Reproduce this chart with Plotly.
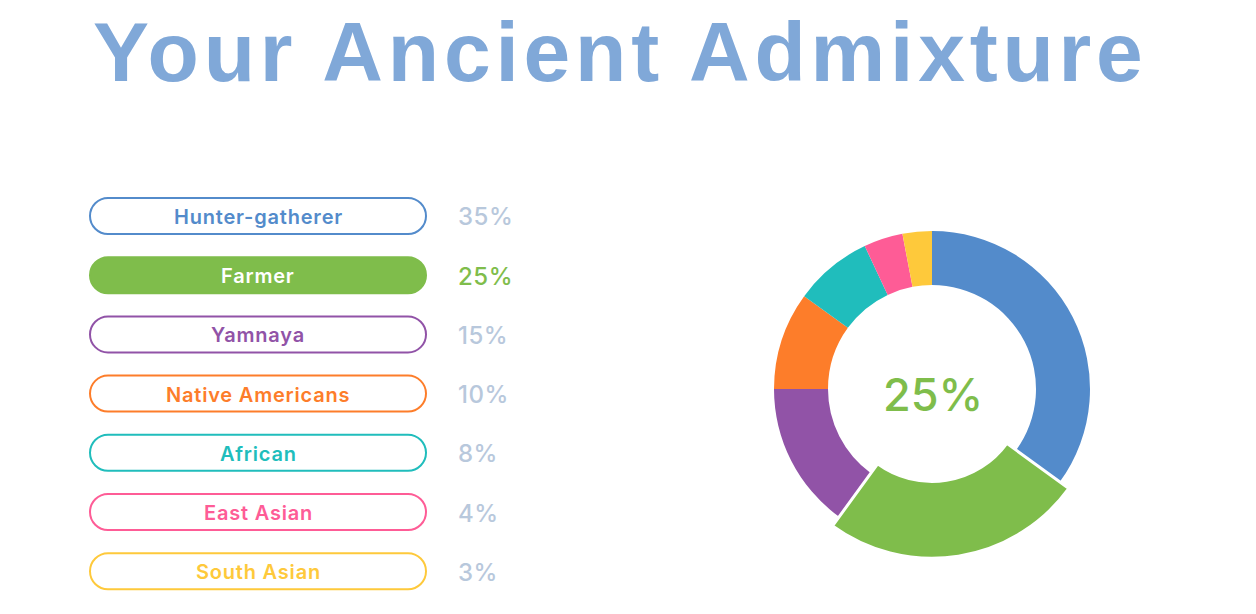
import plotly.graph_objects as go

W, H = 1256, 614

labels = ["Hunter-gatherer", "Farmer", "Yamnaya", "Native Americans", "African", "East Asian", "South Asian"]
values = [35, 25, 15, 10, 8, 4, 3]
colors = ["#538bcb", "#7fbd4b", "#9153a7", "#fd7d2a", "#20bdbc", "#fe5c96", "#fec93b"]
selected = "Farmer"
title = "Your Ancient Admixture"

def px(x):
    return x / W

def py(y):
    return 1 - y / H

fig = go.Figure()

CX, CY = 932, 389
R1, r1 = 158, 104          # normal ring
R2, r2 = 169.2, 92.5       # enlarged ring for the highlighted slice
sel_idx = labels.index(selected)

fig.add_trace(go.Pie(
    labels=labels, values=values, sort=False, direction="clockwise", rotation=0,
    hole=r1 / R1, textinfo="none", hoverinfo="skip",
    marker=dict(colors=colors, line=dict(width=0)),
    domain=dict(x=[px(CX - R1), px(CX + R1)], y=[py(CY + R1), py(CY - R1)]),
    showlegend=False,
))

hl_colors = [c if l == selected else "rgba(0,0,0,0)" for l, c in zip(labels, colors)]
hl_widths = [3 if l == selected else 0 for l in labels]
fig.add_trace(go.Pie(
    labels=labels, values=values, sort=False, direction="clockwise", rotation=0,
    hole=r2 / R2, textinfo="none", hoverinfo="skip",
    marker=dict(colors=hl_colors, line=dict(width=hl_widths, color="white")),
    domain=dict(x=[px(CX - R2), px(CX + R2)], y=[py(CY + R2), py(CY - R2)]),
    showlegend=False,
))

shapes = []
annotations = []
x0, x1, h, r = 90, 426, 36, 18
y_first, step = 216, 59.2
for i, (lab, val, col) in enumerate(zip(labels, values, colors)):
    cy = y_first + i * step
    top, bot = cy - h / 2, cy + h / 2
    k = 0.5523 * r
    path = (
        f"M {px(x0 + r)},{py(top)} L {px(x1 - r)},{py(top)} "
        f"C {px(x1 - r + k)},{py(top)} {px(x1)},{py(cy - k)} {px(x1)},{py(cy)} "
        f"C {px(x1)},{py(cy + k)} {px(x1 - r + k)},{py(bot)} {px(x1 - r)},{py(bot)} "
        f"L {px(x0 + r)},{py(bot)} "
        f"C {px(x0 + r - k)},{py(bot)} {px(x0)},{py(cy + k)} {px(x0)},{py(cy)} "
        f"C {px(x0)},{py(cy - k)} {px(x0 + r - k)},{py(top)} {px(x0 + r)},{py(top)} Z"
    )
    sel = lab == selected
    shapes.append(dict(type="path", xref="paper", yref="paper", path=path,
                       line=dict(color=col, width=2),
                       fillcolor=col if sel else "white", layer="above"))
    annotations.append(dict(x=px((x0 + x1) / 2), y=py(cy + 1), xref="paper", yref="paper",
                            text=f'<span style="letter-spacing:0.8px">{lab}</span>',
                            showarrow=False, xanchor="center", yanchor="middle",
                            font=dict(family="Inter", size=20, weight=600,
                                      color="white" if sel else col)))
    annotations.append(dict(x=px(456), y=py(cy + 1), xref="paper", yref="paper",
                            text=f'<span style="letter-spacing:0.5px">{val}%</span>',
                            showarrow=False, xanchor="left", yanchor="middle",
                            font=dict(family="Inter", size=24, weight=500,
                                      color=col if sel else "#b8c8dc")))

annotations.append(dict(x=px(933), y=py(395), xref="paper", yref="paper",
                        text=f"{values[sel_idx]}%", showarrow=False,
                        xanchor="center", yanchor="middle",
                        font=dict(family="Inter", size=45, weight=500, color=colors[sel_idx])))

annotations.append(dict(x=px(620), y=py(52), xref="paper", yref="paper",
                        text=f'<span style="letter-spacing:4.8px">{title}</span>',
                        showarrow=False, xanchor="center", yanchor="middle",
                        font=dict(family="Liberation Sans", size=84, weight=700, color="#80a8d8")))

fig.update_layout(
    width=W, height=H, margin=dict(l=0, r=0, t=0, b=0),
    paper_bgcolor="white", plot_bgcolor="white",
    shapes=shapes, annotations=annotations,
)

fig.write_html("out.html", config={"displayModeBar": False},
               post_script="document.body.style.margin='0';")
